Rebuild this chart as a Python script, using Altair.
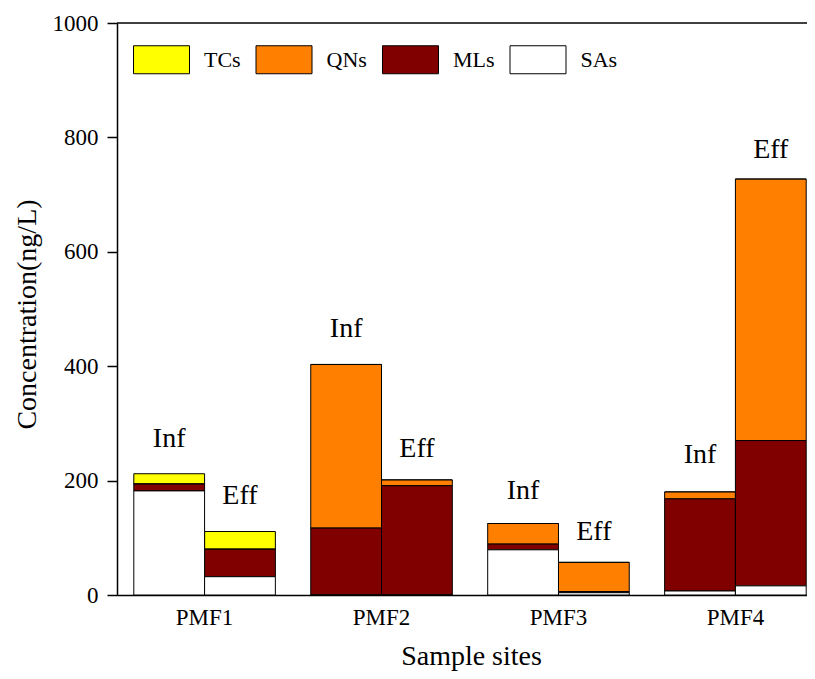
import altair as alt
import pandas as pd

sites = ["PMF1", "PMF2", "PMF3", "PMF4"]
types = ["Inf", "Eff"]
classes = ["TCs", "QNs", "MLs", "SAs"]
colors = ["#FFFF00", "#FF8000", "#800000", "#FFFFFF"]

# concentrations (ng/L) per class, per site, for influent and effluent
tcs_inf = [18, 0, 0, 0]
tcs_eff = [31, 0, 0, 0]
qns_inf = [0, 286, 36, 12]
qns_eff = [0, 10, 51, 457]
mls_inf = [12, 117, 10, 161]
mls_eff = [48, 191, 2, 254]
sas_inf = [182, 0, 79, 7]
sas_eff = [32, 0, 4, 16]

# Inf / Eff annotation heights (ng/L)
label_inf = [259, 451, 168, 231]
label_eff = [159, 241, 96, 764]

stack_rank = {"SAs": 0, "MLs": 1, "QNs": 2, "TCs": 3}
series = {
    ("TCs", "Inf"): tcs_inf, ("TCs", "Eff"): tcs_eff,
    ("QNs", "Inf"): qns_inf, ("QNs", "Eff"): qns_eff,
    ("MLs", "Inf"): mls_inf, ("MLs", "Eff"): mls_eff,
    ("SAs", "Inf"): sas_inf, ("SAs", "Eff"): sas_eff,
}
rows = []
for (cls, typ), vals in series.items():
    for s, v in zip(sites, vals):
        rows.append({"site": s, "type": typ, "cls": cls, "value": v, "rank": stack_rank[cls]})
df = pd.DataFrame(rows)

lab_rows = []
for s, a, b in zip(sites, label_inf, label_eff):
    lab_rows.append({"site": s, "type": "Inf", "ly": a})
    lab_rows.append({"site": s, "type": "Eff", "ly": b})
labels = pd.DataFrame(lab_rows)

FONT = "Liberation Serif"

x_enc = alt.X(
    "site:N", sort=sites,
    scale=alt.Scale(range=[0, 706], paddingInner=0.2, paddingOuter=0.095),
    axis=alt.Axis(title="Sample sites", labelAngle=0, ticks=False, tickSize=0,
                  labelPadding=11, labelFontSize=23, titleFontSize=28,
                  titleFontWeight="normal", titleX=354, titleY=69,
                  titleBaseline="alphabetic"),
)
xo_enc = alt.XOffset("type:N", sort=types, scale=alt.Scale(paddingInner=0, paddingOuter=0))

bars = alt.Chart(df).mark_bar(stroke="black", strokeWidth=1).encode(
    x=x_enc,
    xOffset=xo_enc,
    y=alt.Y(
        "value:Q", stack="zero",
        scale=alt.Scale(domain=[0, 1000], nice=False),
        axis=alt.Axis(title="Concentration(ng/L)", values=[0, 200, 400, 600, 800, 1000],
                      format="d", grid=False, tickSize=10, labelPadding=9, labelFontSize=23,
                      titleFontSize=28, titleFontWeight="normal", titleAngle=270,
                      titleX=-82, titleY=291, titleBaseline="alphabetic"),
    ),
    color=alt.Color(
        "cls:N",
        scale=alt.Scale(domain=classes, range=colors),
        legend=alt.Legend(
            title=None, orient="none", legendX=16, legendY=8, direction="horizontal",
            symbolType="M-1,-0.5H1V0.5H-1Z", symbolSize=3136,
            symbolStrokeColor="black", symbolStrokeWidth=1, symbolOpacity=1,
            labelFontSize=22, labelFont=FONT, labelOffset=14, columnPadding=12.5,
            padding=0, labelColor="black",
        ),
    ),
    order=alt.Order("rank:Q", sort="ascending"),
)

text = alt.Chart(labels).mark_text(fontSize=28, baseline="alphabetic", color="black", font=FONT).encode(
    x=alt.X("site:N", sort=sites),
    xOffset=alt.XOffset("type:N", sort=types),
    y=alt.Y("ly:Q"),
    text="type:N",
)

top_line = alt.Chart(pd.DataFrame({"top": [1000]})).mark_rule(color="black", strokeWidth=1.5).encode(
    y=alt.Y("top:Q")
)

chart = alt.layer(bars, text, top_line).properties(
    width=690, height=572,
    autosize=alt.AutoSizeParams(type="none"),
    padding={"left": 109, "top": 15, "right": 0, "bottom": 76},
).configure(font=FONT).configure_view(stroke=None).configure_axis(
    domainColor="black", domainWidth=1.5, tickColor="black", tickWidth=1.5,
    labelColor="black", titleColor="black", labelFont=FONT, titleFont=FONT,
)

chart.save("out.html", embed_options={"renderer": "svg", "actions": False})
